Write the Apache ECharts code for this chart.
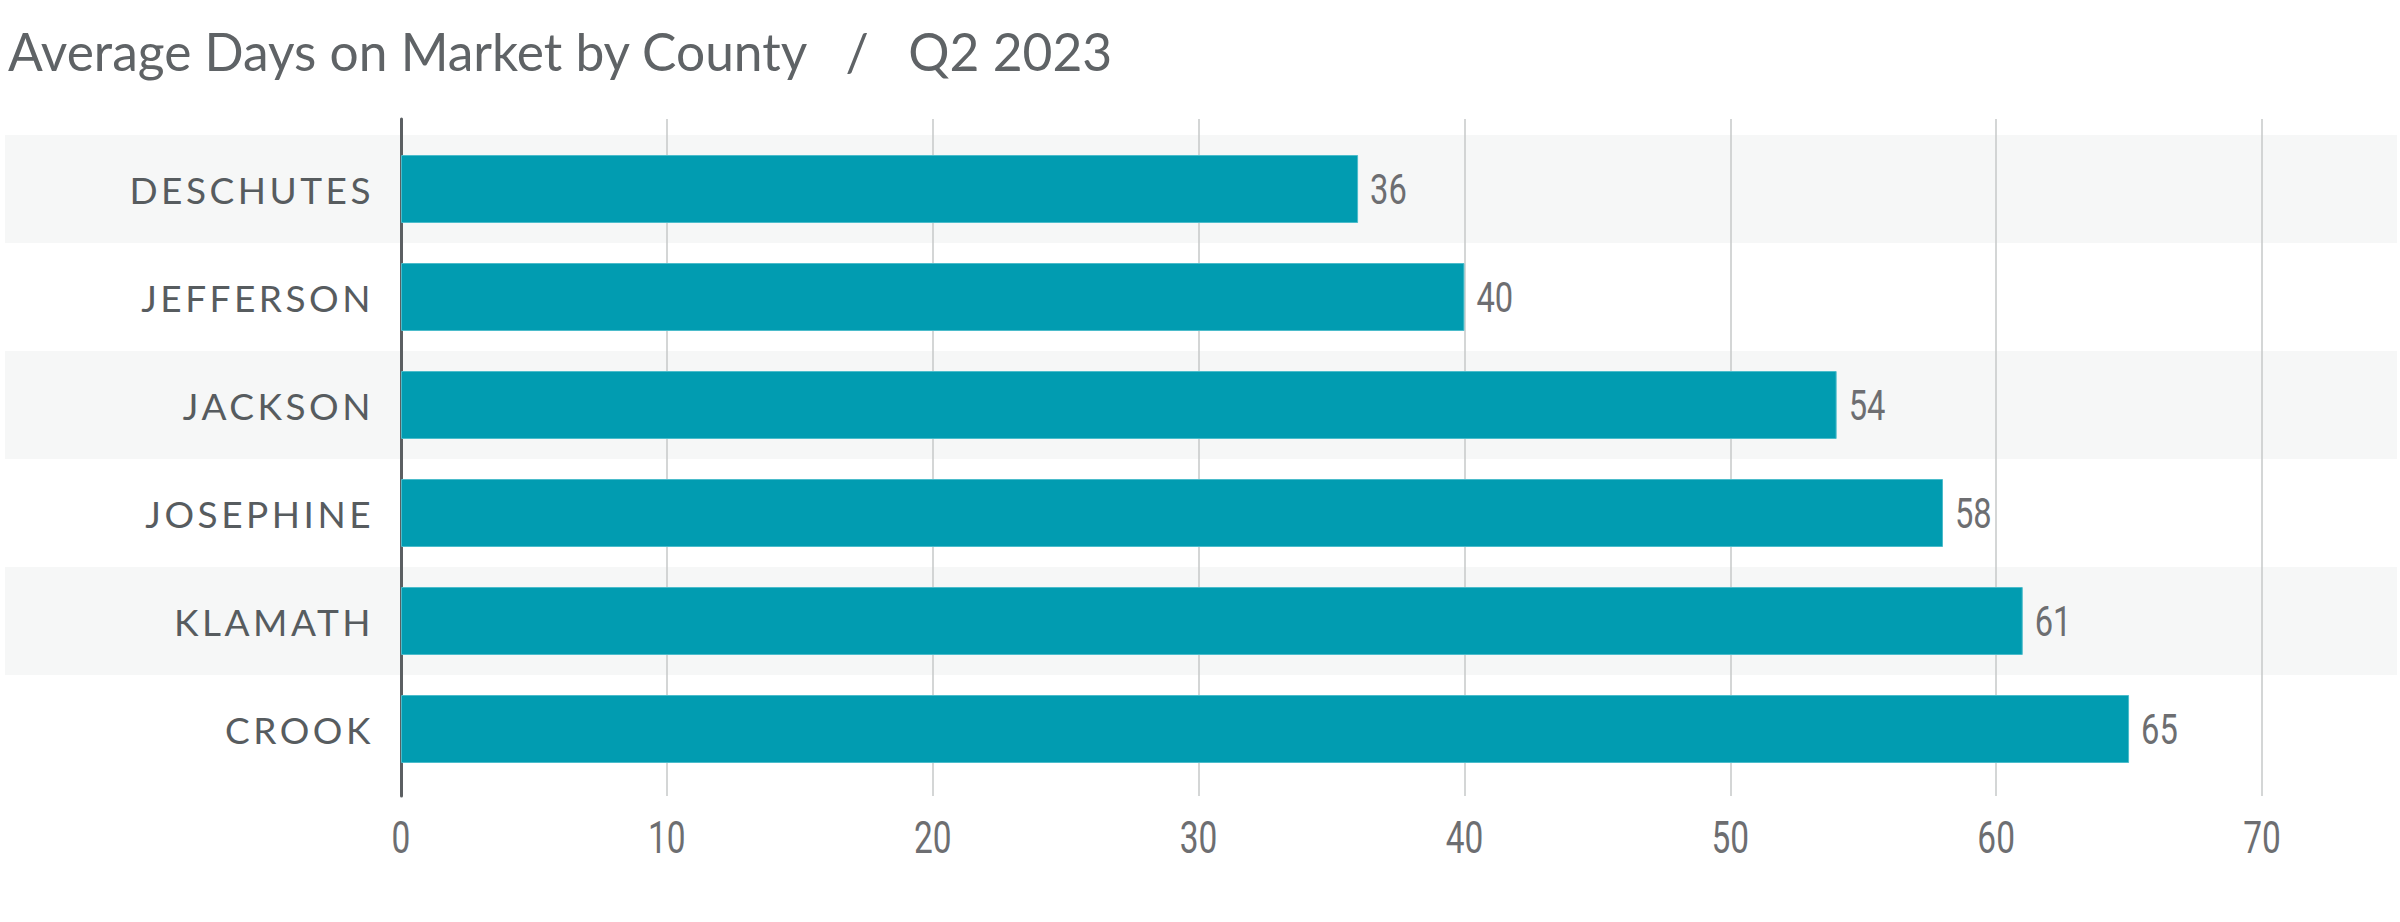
<!DOCTYPE html>
<html>
<head>
<meta charset="utf-8">
<script src="https://cdn.jsdelivr.net/npm/echarts@6/dist/echarts.min.js"></script>
<style>
html,body{margin:0;padding:0;background:#fff;}
#chart{width:2400px;height:922px;}
#chart text[style*="37px"], #chart text[font-size="37px"], #chart text[font-size="37"] { letter-spacing: 3.5px; }
</style>
</head>
<body>
<div id="chart"></div>
<script>
const titleText = 'Average Days on Market by County   /   Q2 2023';
const counties = ['DESCHUTES', 'JEFFERSON', 'JACKSON', 'JOSEPHINE', 'KLAMATH', 'CROOK'];
const avgDays = [36, 40, 54, 58, 61, 65];
const axisMin = 0;
const axisMax = 70;
const axisStep = 10;

const numFont = 'Roboto';
const chart = echarts.init(document.getElementById('chart'), null, { renderer: 'svg' });

// condense the numeric texts horizontally (the reference uses a condensed face)
function condenseNumbers() {
  const svg = document.querySelector('#chart svg');
  if (!svg) return;
  svg.querySelectorAll('text').forEach(function (el) {
    if (el.getAttribute('data-c')) return;
    const st = (el.getAttribute('style') || '') + ' ' + (el.getAttribute('font-size') || '');
    const fs = parseFloat(getComputedStyle(el).fontSize);
    if (!(st.indexOf('43px') >= 0 || st.indexOf('44px') >= 0 || fs === 43 || fs === 44)) return;
    const x = parseFloat(el.getAttribute('x') || '0');
    const cons = el.transform.baseVal.consolidate();
    const base = cons ? cons.matrix : svg.createSVGMatrix();
    const m = base.translate(x, 0).scaleNonUniform(0.76, 1).translate(-x, 0);
    el.setAttribute('transform', 'matrix(' + [m.a, m.b, m.c, m.d, m.e, m.f].join(',') + ')');
    el.setAttribute('data-c', '1');
  });
}
chart.on('finished', condenseNumbers);

chart.setOption({
  backgroundColor: '#ffffff',
  animation: false,
  title: {
    text: titleText,
    left: 3,
    top: 20,
    textStyle: { fontFamily: 'Lato', fontWeight: 'normal', fontSize: 51.5, color: '#5f6366' }
  },
  grid: [
    { left: 5, right: 3, top: 135, bottom: 139 },
    { left: 401, right: 138, top: 119, bottom: 126 },
    { left: 401, right: 138, top: 135, bottom: 139 }
  ],
  xAxis: [
    { gridIndex: 0, type: 'value', show: false, min: 0, max: 1 },
    {
      gridIndex: 1, type: 'value', min: axisMin, max: axisMax, interval: axisStep, z: 1,
      axisLine: { show: false }, axisTick: { show: false },
      splitLine: { show: true, lineStyle: { color: '#c6c8c9', width: 1.5 } },
      axisLabel: { margin: 20, fontFamily: numFont, fontSize: 44, color: '#6d6e71' }
    },
    { gridIndex: 2, type: 'value', min: axisMin, max: axisMax, show: false }
  ],
  yAxis: [
    {
      gridIndex: 0, type: 'category', data: counties, inverse: true, z: 0,
      axisLine: { show: false }, axisTick: { show: false }, axisLabel: { show: false },
      splitLine: { show: false },
      splitArea: { show: true, areaStyle: { color: ['#f6f7f7', '#ffffff'] } }
    },
    {
      gridIndex: 1, type: 'value', min: 0, max: 1, z: 2,
      axisLine: { show: true, lineStyle: { color: '#5b5f62', width: 3 } },
      axisTick: { show: false }, axisLabel: { show: false }, splitLine: { show: false }
    },
    {
      gridIndex: 2, type: 'category', data: counties, inverse: true, z: 3,
      axisLine: { show: false }, axisTick: { show: false }, splitLine: { show: false },
      axisLabel: { margin: 27, fontFamily: 'Lato', fontSize: 37, color: '#575c5f' }
    }
  ],
  series: [
    {
      type: 'bar', xAxisIndex: 2, yAxisIndex: 2, data: avgDays, barWidth: 68, z: 5,
      itemStyle: { color: '#019cb1', borderColor: '#4cbccb', borderWidth: 1 },
      label: {
        show: true, position: 'right', distance: 12,
        fontFamily: numFont, fontSize: 43, color: '#6d6e71'
      }
    }
  ]
});
condenseNumbers();
</script>
</body>
</html>
